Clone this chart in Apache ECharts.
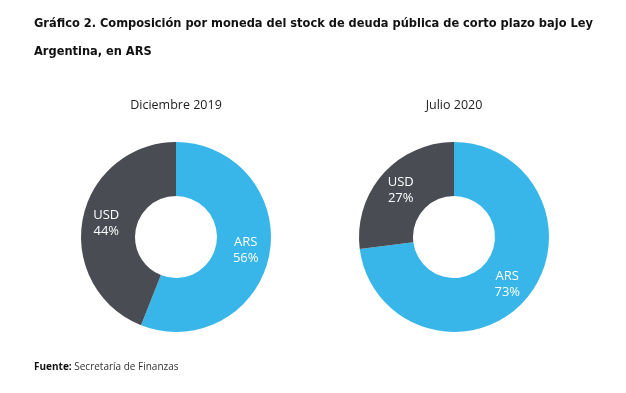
<!DOCTYPE html>
<html>
<head>
<meta charset="utf-8">
<script src="https://cdn.jsdelivr.net/npm/echarts@6/dist/echarts.min.js"></script>
<style>
html,body{margin:0;padding:0;background:#fff;}
#chart{width:626px;height:393px;}
</style>
</head>
<body>
<div id="chart"></div>
<script>
const titleLines = ['Gráfico 2. Composición por moneda del stock de deuda pública de corto plazo bajo Ley', 'Argentina, en ARS'];
const panels = ['Diciembre 2019', 'Julio 2020'];
const categories = ['ARS', 'USD'];
const dic2019 = [56, 44];
const jul2020 = [73, 27];
const sourceLabel = 'Fuente:';
const sourceText = 'Secretaría de Finanzas';

const colors = ['#38B6E9', '#4A4C54'];
const centers = [[176, 237], [454, 237]];
const seriesData = [dic2019, jul2020];

const chart = echarts.init(document.getElementById('chart'), null, {renderer: 'canvas'});
const option = {
  backgroundColor: '#fff',
  animation: false,
  title: [
    {text: titleLines.join('\n'), left: 34, top: 10, padding: 0,
     textStyle: {fontFamily: '"DejaVu Sans Condensed", "DejaVu Sans"', fontWeight: 'bold', fontSize: 12.7, color: '#111', lineHeight: 28}},
    {text: panels[0], left: 176, textAlign: 'center', top: 99, padding: 0,
     textStyle: {fontFamily: 'Open Sans', fontWeight: 'normal', fontSize: 12.5, color: '#222'}},
    {text: panels[1], left: 454, textAlign: 'center', top: 99, padding: 0,
     textStyle: {fontFamily: 'Open Sans', fontWeight: 'normal', fontSize: 12.5, color: '#222'}},
    {text: '{b|' + sourceLabel + '} ' + sourceText, left: 34, top: 362, padding: 0,
     textStyle: {fontFamily: 'Open Sans', fontWeight: 'normal', fontSize: 10, color: '#333',
       rich: {b: {fontFamily: 'Open Sans', fontWeight: 'bold', fontSize: 10, color: '#111'}}}}
  ],
  series: seriesData.map((vals, i) => ({
    type: 'pie',
    center: centers[i],
    radius: [41, 95],
    startAngle: 90,
    clockwise: true,
    silent: true,
    itemStyle: {borderWidth: 0},
    label: {
      show: true, position: 'inside',
      formatter: p => p.name + '\n' + p.value + '%',
      color: '#fff', fontFamily: 'Open Sans', fontSize: 13, lineHeight: 16, align: 'left'
    },
    labelLine: {show: false},
    data: categories.map((c, j) => ({name: c, value: vals[j], itemStyle: {color: colors[j]}}))
  }))
};
chart.setOption(option);
</script>
</body>
</html>
